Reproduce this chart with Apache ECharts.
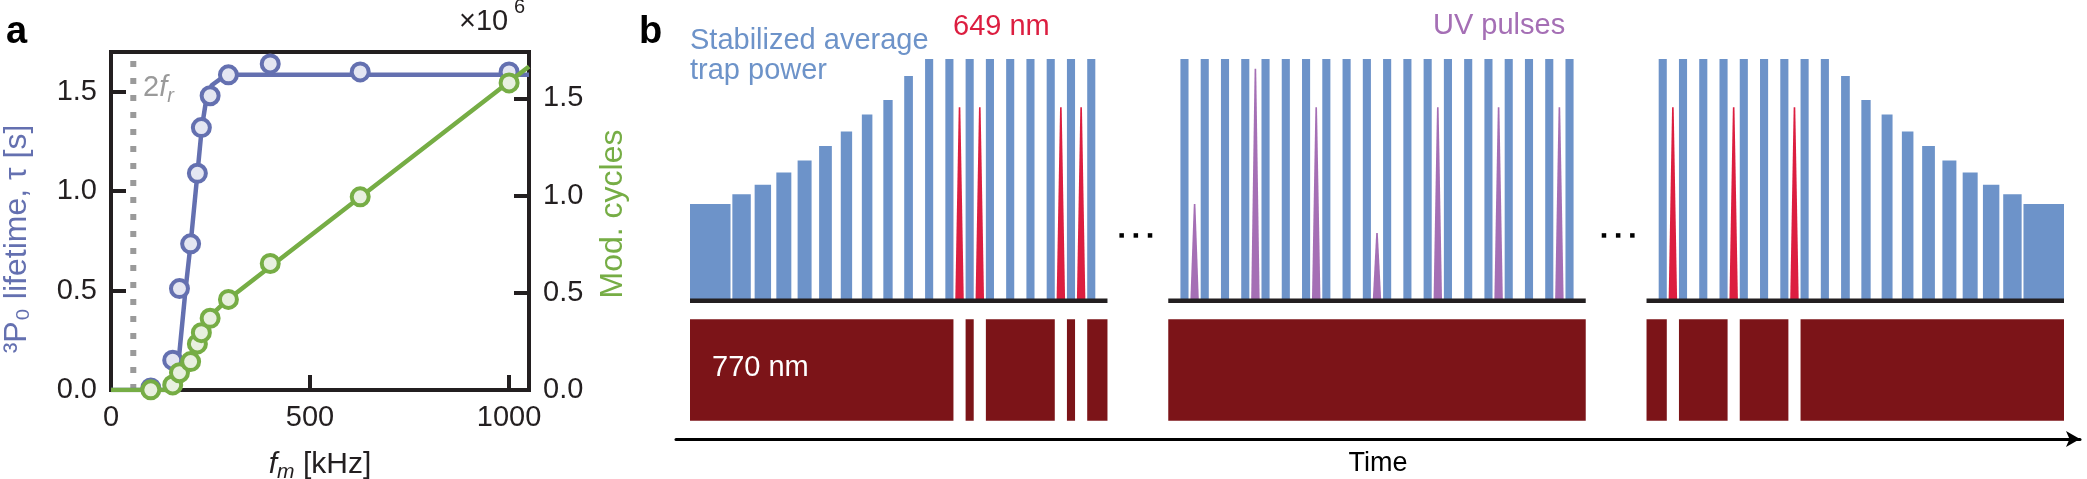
<!DOCTYPE html>
<html>
<head>
<meta charset="utf-8">
<script src="https://cdn.jsdelivr.net/npm/echarts@6/dist/echarts.min.js"></script>
<style>
  html, body { margin: 0; padding: 0; background: #fff; }
  #chart { width: 2087px; height: 479px; }
</style>
</head>
<body>
<div id="chart"></div>
<script>
// ---------------- panel a: 3P0 lifetime vs modulation frequency ----------------
var freqKHz   = [100, 155, 172, 200, 217, 227, 249, 295, 400, 626, 1000];
var lifetimeS = [0.01, 0.15, 0.51, 0.735, 1.09, 1.32, 1.48, 1.585, 1.64, 1.60, 1.60];
var modCycles = [0.001, 0.026, 0.089, 0.146, 0.237, 0.295, 0.369, 0.466, 0.651, 0.994, 1.58]; // x1e6

// fit curves as drawn
var fitFreq     = [0, 163, 170, 187, 200, 217, 228, 239, 253, 282, 300, 1050];
var fitLifetime = [0, 0, 0.15, 0.50, 0.735, 1.087, 1.317, 1.458, 1.533, 1.575, 1.585, 1.585];
var fitCycles   = [0, 0, 0.026, 0.094, 0.147, 0.236, 0.300, 0.348, 0.388, 0.444, 0.476, 1.664];

var twoFr = 56; // kHz, 2 f_r marker

// ---------------- panel b: pulse sequence, time in trap periods ----------------
var segStart = [0, 23.6, 47.2];
var segLength = 20.6;

// trap power pulses: [start, end, power]
var trapSeg1 = [
  [0, 2, 0.40], [2.09, 3, 0.44], [3.19, 4, 0.48], [4.26, 5, 0.53], [5.31, 6, 0.58],
  [6.37, 7, 0.64], [7.44, 8, 0.70], [8.48, 9, 0.77], [9.54, 10, 0.83], [10.57, 11, 0.93],
  [11.6, 12, 1], [12.6, 13, 1], [13.6, 14, 1], [14.6, 15, 1], [15.6, 16, 1],
  [16.6, 17, 1], [17.6, 18, 1], [18.6, 19, 1], [19.6, 20, 1]
];
var trapSeg2 = [
  [0.6, 1, 1], [1.6, 2, 1], [2.6, 3, 1], [3.6, 4, 1], [4.6, 5, 1],
  [5.6, 6, 1], [6.6, 7, 1], [7.6, 8, 1], [8.6, 9, 1], [9.6, 10, 1],
  [10.6, 11, 1], [11.6, 12, 1], [12.6, 13, 1], [13.6, 14, 1], [14.6, 15, 1],
  [15.6, 16, 1], [16.6, 17, 1], [17.6, 18, 1], [18.6, 19, 1], [19.6, 20, 1]
];
var trapSeg3 = [
  [0.6, 1, 1], [1.6, 2, 1], [2.6, 3, 1], [3.6, 4, 1], [4.6, 5, 1],
  [5.6, 6, 1], [6.6, 7, 1], [7.6, 8, 1], [8.6, 9, 1],
  [9.6, 10.03, 0.93], [10.6, 11.06, 0.83], [11.6, 12.14, 0.77], [12.6, 13.17, 0.70],
  [13.6, 14.23, 0.64], [14.6, 15.29, 0.58], [15.6, 16.34, 0.53], [16.6, 17.41, 0.48],
  [17.6, 18.51, 0.44], [18.6, 20.6, 0.40]
];

// 649 nm and UV pulses: [centre, height]
var red649Seg1 = [[13.3, 0.8], [14.3, 0.8], [18.3, 0.8], [19.3, 0.8]];
var red649Seg3 = [[1.3, 0.8], [4.3, 0.8], [7.3, 0.8]];
var uvSeg2 = [[1.3, 0.40], [4.3, 0.96], [7.3, 0.80], [10.3, 0.28], [13.3, 0.80], [16.3, 0.80], [19.3, 0.80]];

// 770 nm on-intervals: [start, end]
var on770Seg1 = [[0, 13], [13.6, 14], [14.6, 18], [18.6, 19], [19.6, 20.6]];
var on770Seg2 = [[0, 20.6]];
var on770Seg3 = [[0, 1], [1.6, 4], [4.6, 7], [7.6, 20.6]];

var ellipsisTimes = [21.3, 22.0, 22.7, 45.1, 45.8, 46.5];
var ellipsisLevel = 0.27;

// ---------------- build series data ----------------
function shiftPulses(segs) {
  var out = [];
  segs.forEach(function (seg, i) {
    seg.forEach(function (p) {
      out.push([segStart[i] + p[0], segStart[i] + p[1], p[2] === undefined ? 1 : p[2]]);
    });
  });
  return out;
}
function shiftSpikes(list, seg) {
  return list.map(function (s) { return [segStart[seg] + s[0], s[1]]; });
}

var trapData = shiftPulses([trapSeg1, trapSeg2, trapSeg3]);
var on770Data = shiftPulses([on770Seg1, on770Seg2, on770Seg3]);
var red649Data = shiftSpikes(red649Seg1, 0).concat(shiftSpikes(red649Seg3, 2));
var uvData = shiftSpikes(uvSeg2, 1);
var baseData = segStart.map(function (s) { return [s, s + segLength]; });
var dotsData = ellipsisTimes.map(function (t) { return [t, ellipsisLevel]; });

var FONT = 'Liberation Sans';
var INK = '#231f20';
var BLUE_A = '#6470b0';
var GREEN_A = '#76ad45';
var TRAP = '#6d93c9';

function zip(a, b) { return a.map(function (v, i) { return [v, b[i]]; }); }

function rectItem(fill) {
  return function (params, api) {
    var p0 = api.coord([api.value(0), api.value(2)]);
    var p1 = api.coord([api.value(1), 0]);
    return {
      type: 'rect',
      shape: { x: p0[0], y: p0[1], width: p1[0] - p0[0], height: p1[1] - p0[1] },
      style: { fill: fill }
    };
  };
}
function spikeItem(fill) {
  return function (params, api) {
    var c = api.value(0), h = api.value(1);
    return {
      type: 'polygon',
      shape: { points: [
        api.coord([c - 0.21, 0]), api.coord([c - 0.04, h]),
        api.coord([c + 0.04, h]), api.coord([c + 0.21, 0])
      ] },
      style: { fill: fill }
    };
  };
}
function baseItem(params, api) {
  var p0 = api.coord([api.value(0), 0]);
  var p1 = api.coord([api.value(1), 0]);
  return {
    type: 'line',
    shape: { x1: p0[0], y1: p0[1], x2: p1[0], y2: p1[1] },
    style: { stroke: INK, lineWidth: 4.5 }
  };
}

var hiddenAxis = {
  axisLine: { show: false }, axisTick: { show: false },
  axisLabel: { show: false }, splitLine: { show: false }
};

var frameLine = { show: true, lineStyle: { color: INK, width: 4 } };
var frameTick = { show: true, inside: true, length: 15, lineStyle: { color: INK, width: 4 } };

var chart = echarts.init(document.getElementById('chart'));
chart.setOption({
  animation: false,
  backgroundColor: '#fff',
  textStyle: { fontFamily: FONT },
  grid: [
    { left: 111, right: 2087 - 529, top: 52, bottom: 479 - 390, show: true,
      borderColor: INK, borderWidth: 4, backgroundColor: 'transparent', outerBoundsMode: 'none' },
    { left: 690, right: 23, top: 59, bottom: 479 - 300.7, outerBoundsMode: 'none' },
    { left: 690, right: 23, top: 319.3, bottom: 479 - 420.7, outerBoundsMode: 'none' },
    { left: 676, right: 7, top: 438, height: 1, outerBoundsMode: 'none' }
  ],
  xAxis: [
    { gridIndex: 0, type: 'value', min: 0, max: 1050, interval: 500,
      axisLine: frameLine, axisTick: frameTick, splitLine: { show: false },
      axisLabel: { fontSize: 29, color: INK, margin: 13, showMaxLabel: false, fontFamily: FONT,
        formatter: function (v) { return String(v); } },
      name: '{i|f}{sub|m} [kHz]', nameLocation: 'middle', nameGap: 56,
      nameTextStyle: { fontSize: 30, color: INK, fontFamily: FONT,
        rich: {
          i: { fontSize: 30, fontStyle: 'italic', fontFamily: FONT, color: INK },
          sub: { fontSize: 21, fontStyle: 'italic', fontFamily: FONT, color: INK, verticalAlign: 'bottom', lineHeight: 37 }
        } } },
    Object.assign({ gridIndex: 1, type: 'value', min: 0, max: 67.8 }, hiddenAxis),
    Object.assign({ gridIndex: 2, type: 'value', min: 0, max: 67.8 }, hiddenAxis),
    { gridIndex: 3, type: 'value', min: 0, max: 1,
      axisLine: { show: true, symbol: ['none', 'arrow'], symbolSize: [12, 14],
        lineStyle: { color: '#000', width: 3 } },
      axisTick: { show: false }, axisLabel: { show: false }, splitLine: { show: false },
      name: 'Time', nameLocation: 'middle', nameGap: 11,
      nameTextStyle: { fontSize: 27, color: '#000', fontFamily: FONT, verticalAlign: 'top' } }
  ],
  yAxis: [
    { gridIndex: 0, type: 'value', min: 0, max: 1.70, interval: 0.5, position: 'left',
      axisLine: frameLine, axisTick: frameTick, splitLine: { show: false },
      axisLabel: { fontSize: 29, color: INK, margin: 14, showMaxLabel: false, fontFamily: FONT,
        formatter: function (v) { return v.toFixed(1); } } },
    { gridIndex: 0, type: 'value', min: 0, max: 1.739, interval: 0.5, position: 'right',
      axisLine: frameLine, axisTick: frameTick, splitLine: { show: false },
      axisLabel: { fontSize: 29, color: INK, margin: 14, showMaxLabel: false, fontFamily: FONT,
        formatter: function (v) { return v.toFixed(1); } } },
    Object.assign({ gridIndex: 1, type: 'value', min: 0, max: 1 }, hiddenAxis),
    Object.assign({ gridIndex: 2, type: 'value', min: 0, max: 1 }, hiddenAxis),
    Object.assign({ gridIndex: 3, type: 'value', min: 0, max: 1 }, hiddenAxis)
  ],
  series: [
    // panel a
    { type: 'line', xAxisIndex: 0, yAxisIndex: 0, data: [[twoFr, 0], [twoFr, 1.66]],
      symbol: 'none', z: 1, lineStyle: { color: '#9a9a9a', width: 6, type: [6, 11] } },
    { type: 'line', xAxisIndex: 0, yAxisIndex: 0, data: zip(fitFreq, fitLifetime),
      symbol: 'none', z: 2, lineStyle: { color: BLUE_A, width: 4.5 } },
    { type: 'scatter', xAxisIndex: 0, yAxisIndex: 0, data: zip(freqKHz, lifetimeS),
      symbol: 'circle', symbolSize: 17, z: 3,
      itemStyle: { color: '#e4e6f2', borderColor: BLUE_A, borderWidth: 4, opacity: 1 } },
    { type: 'line', xAxisIndex: 0, yAxisIndex: 1, data: zip(fitFreq, fitCycles),
      symbol: 'none', z: 4, lineStyle: { color: GREEN_A, width: 4.5 } },
    { type: 'scatter', xAxisIndex: 0, yAxisIndex: 1, data: zip(freqKHz, modCycles),
      symbol: 'circle', symbolSize: 17, z: 5,
      itemStyle: { color: '#e8f0df', borderColor: GREEN_A, borderWidth: 4, opacity: 1 } },

    // panel b: trap power, 649 nm and UV pulses
    { type: 'custom', xAxisIndex: 1, yAxisIndex: 2, data: trapData,
      encode: { x: [0, 1], y: 2 }, renderItem: rectItem(TRAP), z: 2 },
    { type: 'custom', xAxisIndex: 1, yAxisIndex: 2, data: red649Data,
      encode: { x: 0, y: 1 }, renderItem: spikeItem('#dc1e40'), z: 3 },
    { type: 'custom', xAxisIndex: 1, yAxisIndex: 2, data: uvData,
      encode: { x: 0, y: 1 }, renderItem: spikeItem('#a56fb5'), z: 3 },
    { type: 'custom', xAxisIndex: 1, yAxisIndex: 2, data: baseData,
      encode: { x: [0, 1] }, renderItem: baseItem, z: 4 },
    { type: 'scatter', xAxisIndex: 1, yAxisIndex: 2, data: dotsData,
      symbol: 'rect', symbolSize: 4.5, itemStyle: { color: '#000', opacity: 1 }, z: 4 },

    // panel b: 770 nm
    { type: 'custom', xAxisIndex: 2, yAxisIndex: 3,
      data: on770Data.map(function (d) { return [d[0], d[1], 1]; }),
      encode: { x: [0, 1], y: 2 }, renderItem: rectItem('#7c1418'), z: 2 }
  ],
  graphic: [
    { type: 'text', left: 6, top: 14, style: { text: 'a', fontSize: 38, fontWeight: 'bold', fontFamily: FONT, fill: '#000' } },
    { type: 'text', left: 639, top: 14, style: { text: 'b', fontSize: 38, fontWeight: 'bold', fontFamily: FONT, fill: '#000' } },
    { type: 'text', x: 459, y: 36, style: { text: '×10', fontSize: 29, fontFamily: FONT, fill: INK, verticalAlign: 'bottom' } },
    { type: 'text', x: 514, y: 17, style: { text: '6', fontSize: 20, fontFamily: FONT, fill: INK, verticalAlign: 'bottom' } },
    { type: 'text', x: 143, y: 88, z: 10, style: {
      text: '2{i|f}{sub|r}', fontSize: 29, fontFamily: FONT, fill: '#9a9a9a', verticalAlign: 'middle',
      rich: {
        i: { fontSize: 29, fontStyle: 'italic', fontFamily: FONT, fill: '#9a9a9a' },
        sub: { fontSize: 20, fontStyle: 'italic', fontFamily: FONT, fill: '#9a9a9a', verticalAlign: 'bottom', lineHeight: 36 }
      } } },
    { type: 'text', x: 17, y: 239, rotation: Math.PI / 2, style: {
      text: '³P₀ lifetime, τ [s]', fontSize: 32, fontFamily: FONT, fill: BLUE_A,
      align: 'center', verticalAlign: 'middle' } },
    { type: 'text', x: 613, y: 214, rotation: Math.PI / 2, style: {
      text: 'Mod. cycles', fontSize: 32, fontFamily: FONT, fill: GREEN_A, align: 'center', verticalAlign: 'middle' } },
    { type: 'text', x: 690, y: 25.6, style: {
      text: 'Stabilized average\ntrap power', fontSize: 29, lineHeight: 30.3, fontFamily: FONT, fill: TRAP, verticalAlign: 'top' } },
    { type: 'text', x: 953, y: 26.6, style: { text: '649 nm', fontSize: 29, fontFamily: FONT, fill: '#dc1e40', verticalAlign: 'middle' } },
    { type: 'text', x: 1433, y: 26, style: { text: 'UV pulses', fontSize: 29, fontFamily: FONT, fill: '#a56fb5', verticalAlign: 'middle' } },
    { type: 'text', x: 712, y: 368, z: 10, style: { text: '770 nm', fontSize: 29, fontFamily: FONT, fill: '#fff', verticalAlign: 'middle' } }
  ]
});
</script>
</body>
</html>
